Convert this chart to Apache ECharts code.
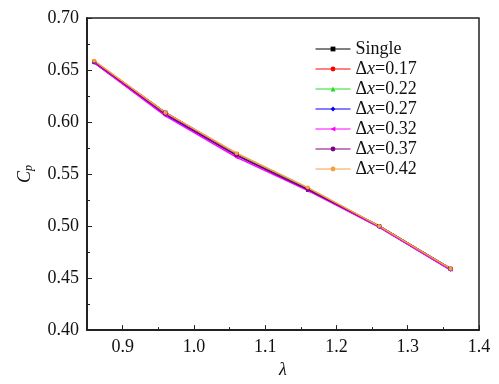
<!DOCTYPE html>
<html><head><meta charset="utf-8">
<script src="https://cdn.jsdelivr.net/npm/echarts@6/dist/echarts.min.js"></script>
<style>html,body{margin:0;padding:0;background:#fff}#c{width:499px;height:384px}</style>
</head><body><div id="c"></div>
<script>
const lambdaVals = [0.86, 0.96, 1.06, 1.16, 1.26, 1.36];
const seriesNames = ['Single', 'Δx=0.17', 'Δx=0.22', 'Δx=0.27', 'Δx=0.32', 'Δx=0.37', 'Δx=0.42'];
const cpSingle = [0.658, 0.609, 0.569, 0.535, 0.500, 0.459];
const cp017 = [0.658, 0.609, 0.569, 0.536, 0.500, 0.459];
const cp022 = [0.658, 0.608, 0.569, 0.536, 0.500, 0.459];
const cp027 = [0.657, 0.607, 0.568, 0.535, 0.499, 0.458];
const cp032 = [0.657, 0.606, 0.566, 0.534, 0.499, 0.458];
const cp037 = [0.658, 0.608, 0.568, 0.535, 0.500, 0.459];
const cp042 = [0.659, 0.609, 0.570, 0.537, 0.500, 0.459];
const yTicks = [0.40, 0.45, 0.50, 0.55, 0.60, 0.65, 0.70];
const xTicks = [0.9, 1.0, 1.1, 1.2, 1.3, 1.4];

const allData = [cpSingle, cp017, cp022, cp027, cp032, cp037, cp042];
const colors = ['#000000', '#ff0000', '#22dd22', '#0000ff', '#ff00ff', '#800080', '#f5a040'];
const symbols = ['rect', 'circle', 'triangle', 'diamond', 'path://M0,5 L10,0 L10,10 Z', 'circle', 'circle'];
const FONT = 'Liberation Serif';

const chart = echarts.init(document.getElementById('c'));
const series = allData.map((d, i) => ({
  name: seriesNames[i],
  type: 'line',
  xAxisIndex: 1,
  data: d.map((v, j) => [lambdaVals[j], v]),
  color: colors[i],
  symbol: symbols[i],
  symbolSize: 4,
  lineStyle: { width: 1.5, color: colors[i] },
  itemStyle: { color: colors[i] },
  animation: false
}));

function legendFmt(name) {
  if (name.startsWith('Δx')) return '{n|Δ}{i|x}{n|' + name.slice(2) + '}';
  return '{n|' + name + '}';
}

chart.setOption({
  backgroundColor: '#fff',
  animation: false,
  grid: { left: 87, top: 18, right: 20, bottom: 51, show: true, borderColor: '#222', borderWidth: 1.5, backgroundColor: 'transparent' },
  legend: {
    left: 310, top: 35, orient: 'vertical', itemWidth: 35, itemHeight: 6, itemGap: 2,
    data: seriesNames,
    formatter: legendFmt,
    lineStyle: { width: 1 },
    textStyle: {
      fontFamily: FONT, fontSize: 18, color: '#111',
      rich: {
        n: { fontFamily: FONT, fontSize: 18, color: '#111', lineHeight: 17 },
        i: { fontFamily: FONT, fontSize: 18, fontStyle: 'italic', color: '#111', lineHeight: 17 }
      }
    }
  },
  xAxis: [
    {
      type: 'value', min: 0.85, max: 1.4, interval: 0.05, position: 'bottom',
      axisLine: { show: false }, splitLine: { show: false },
      axisTick: { inside: true, length: 3, lineStyle: { color: '#222', width: 1 } },
      axisLabel: { show: false }
    },
    {
      type: 'value', min: 0.85, max: 1.4, splitNumber: 5, position: 'bottom',
      name: 'λ', nameLocation: 'middle', nameGap: 28,
      nameTextStyle: { fontFamily: FONT, fontSize: 18, fontStyle: 'italic', color: '#111' },
      axisLine: { show: true, onZero: false, lineStyle: { color: '#222', width: 2 } },
      splitLine: { show: false },
      axisTick: { inside: true, length: 5, lineStyle: { color: '#222', width: 1 } },
      axisLabel: {
        showMinLabel: false, margin: 8, fontFamily: FONT, fontSize: 18, color: '#111',
        formatter: v => xTicks.some(t => Math.abs(t - v) < 1e-9) ? v.toFixed(1) : ''
      }
    }
  ],
  yAxis: {
    type: 'value', min: 0.40, max: 0.70, interval: 0.05,
    name: '{c|C}{p|p}', nameLocation: 'middle', nameGap: 52, nameRotate: 90,
    nameTextStyle: {
      rich: {
        c: { fontFamily: FONT, fontSize: 18, fontStyle: 'italic', color: '#111' },
        p: { fontFamily: FONT, fontSize: 12, fontStyle: 'italic', color: '#111', padding: [8, 0, 0, 0] }
      }
    },
    axisLine: { show: true, lineStyle: { color: '#222', width: 2 } },
    splitLine: { show: false },
    axisTick: { inside: true, length: 5, lineStyle: { color: '#222', width: 1 } },
    minorTick: { show: true, splitNumber: 2, length: 3, lineStyle: { color: '#222', width: 1 } },
    axisLabel: {
      margin: 8, fontFamily: FONT, fontSize: 18, color: '#111',
      formatter: v => yTicks.some(t => Math.abs(t - v) < 1e-9) ? v.toFixed(2) : ''
    }
  },
  series: series
});
</script>
</body></html>
